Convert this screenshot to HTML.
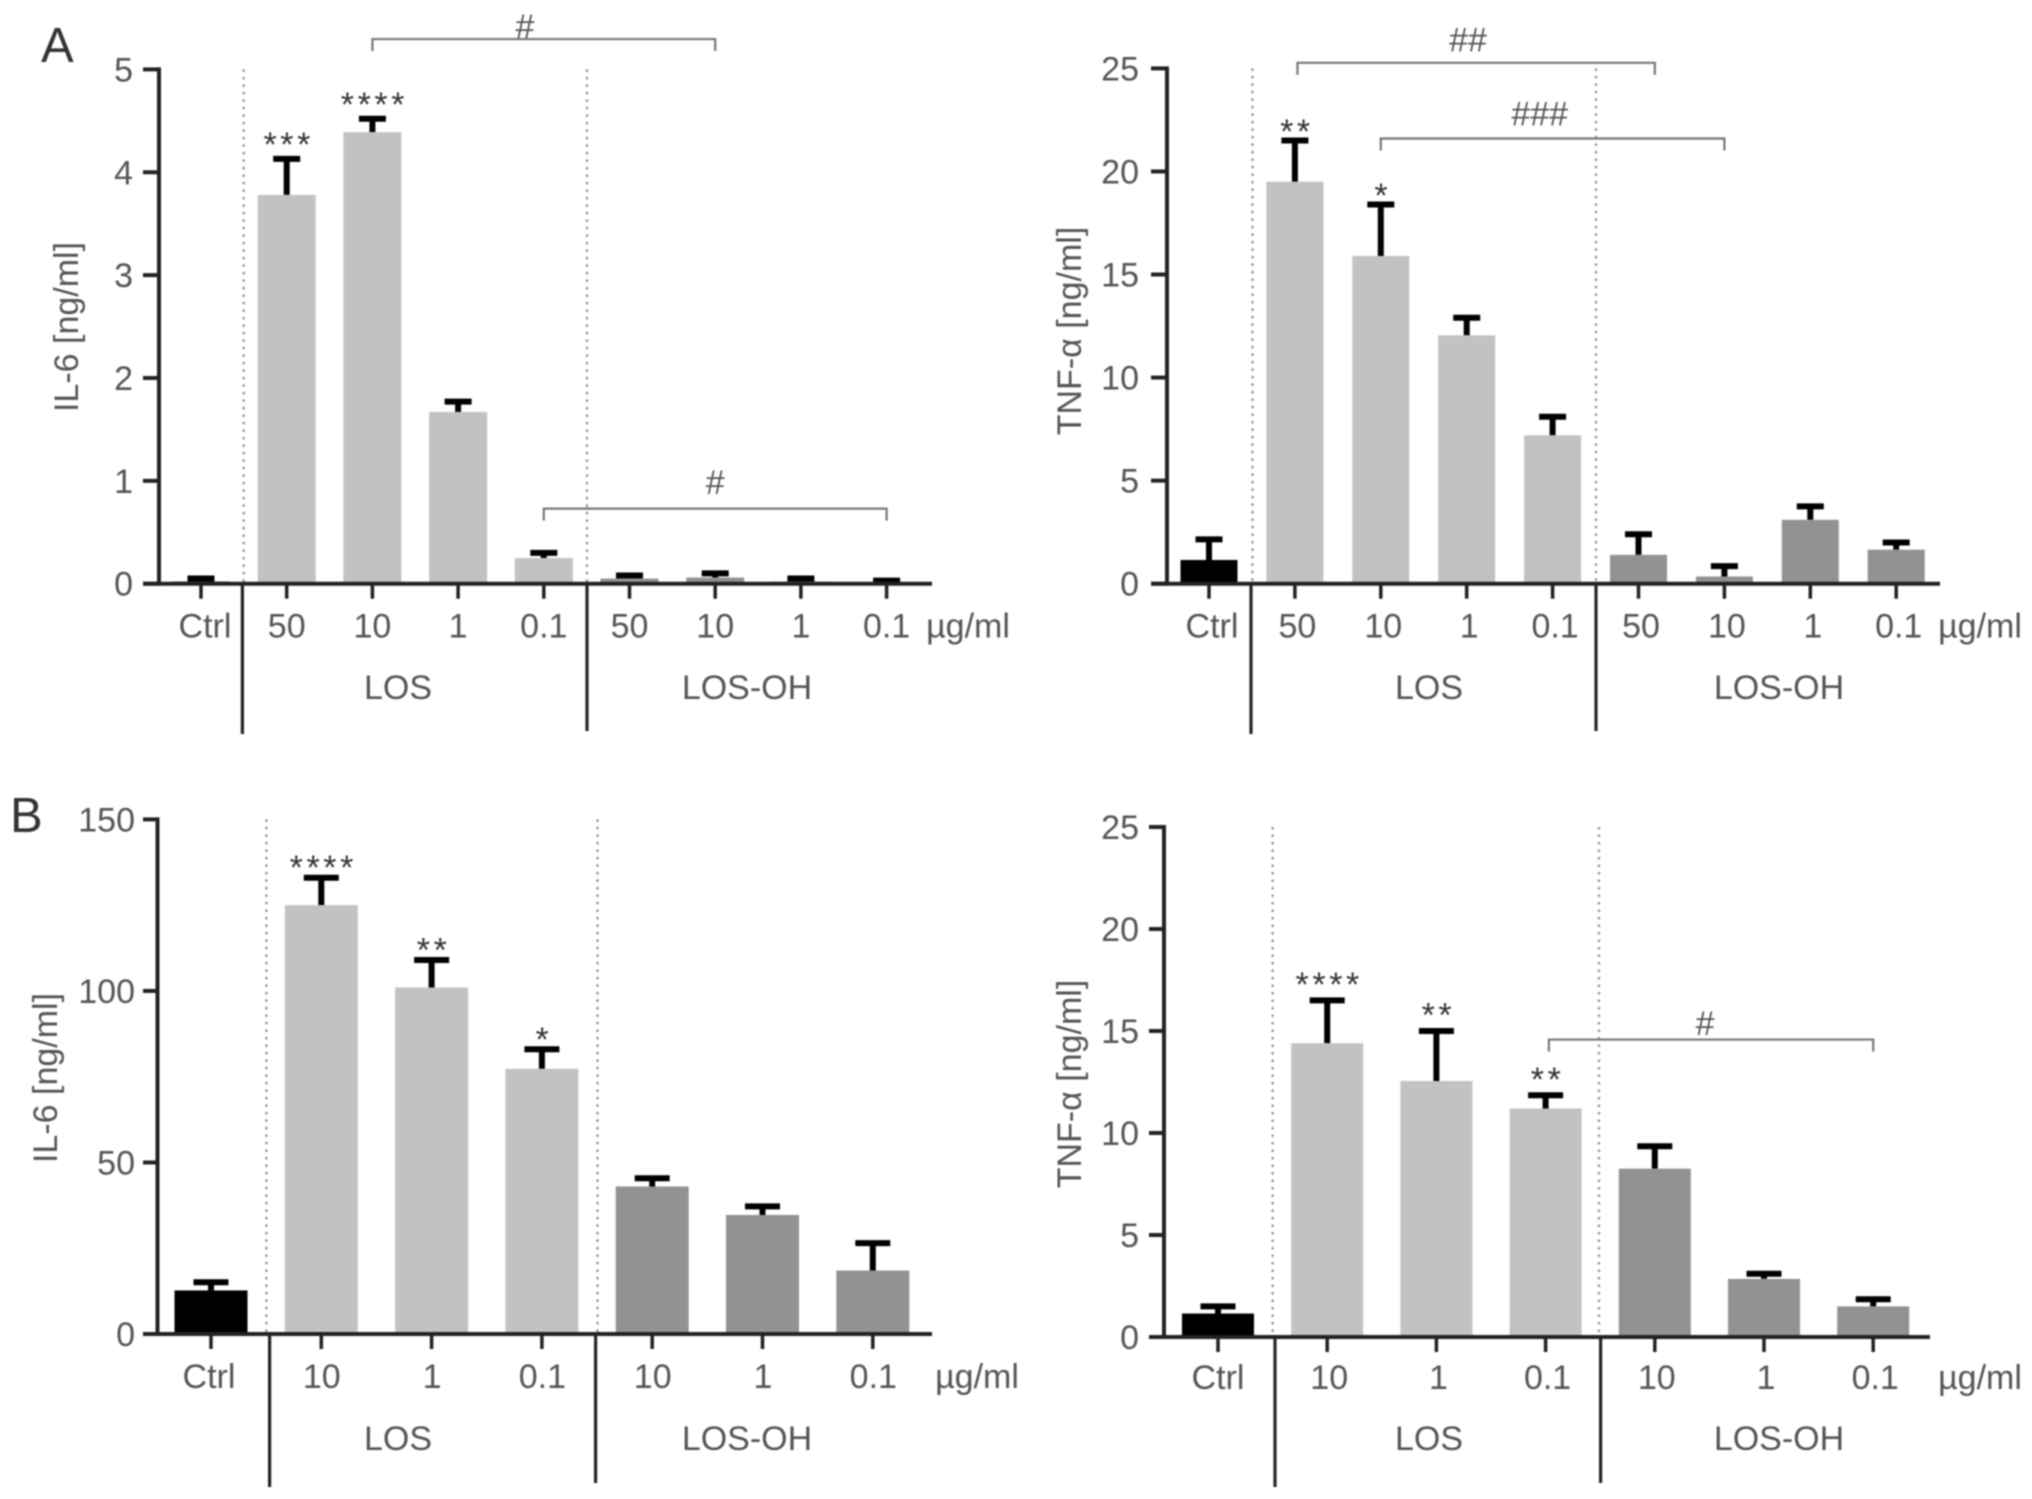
<!DOCTYPE html>
<html lang="en">
<head>
<meta charset="utf-8">
<title>IL-6 and TNF-alpha bar charts</title>
<style>
html,body{margin:0;padding:0;background:#fff;}
svg{display:block;filter:blur(0.8px);}
text{font-family:"Liberation Sans",sans-serif;fill:#555;}
</style>
</head>
<body>
<svg id="figure" width="2032" height="1499" viewBox="0 0 2032 1499" xmlns="http://www.w3.org/2000/svg">
  <rect width="2032" height="1499" fill="#fff"/>
  <text x="41" y="62" font-size="49" style="fill:#333">A</text>
  <text x="10" y="832" font-size="49" style="fill:#333">B</text>
  <g id="a-il6"></g>
  <g id="a-tnf"></g>
  <g id="b-il6"></g>
  <g id="b-tnf"></g>
</svg>
<script>
// Data
const categoriesA = ['Ctrl','50','10','1','0.1','50','10','1','0.1'];
const categoriesB = ['Ctrl','10','1','0.1','10','1','0.1'];

const aIl6Values = [0.02,3.78,4.39,1.67,0.25,0.05,0.06,0.02,0.005];
const aIl6Tops   = [0.05,4.13,4.52,1.77,0.30,0.08,0.10,0.05,0.03];
const aIl6Stars  = ['','***','****','','','','','',''];
const aIl6Ticks  = [0,1,2,3,4,5];

const aTnfValues = [1.15,19.5,15.9,12.05,7.2,1.4,0.35,3.1,1.65];
const aTnfTops   = [2.15,21.5,18.4,12.9,8.1,2.4,0.85,3.75,2.0];
const aTnfStars  = ['','**','*','','','','','',''];
const aTnfTicks  = [0,5,10,15,20,25];

const bIl6Values = [12.7,125,101,77.3,43,34.7,18.5];
const bIl6Tops   = [15.1,133,109,83,45.4,37.2,26.5];
const bIl6Stars  = ['','****','**','*','','',''];
const bIl6Ticks  = [0,50,100,150];

const bTnfValues = [1.15,14.4,12.55,11.2,8.25,2.85,1.5];
const bTnfTops   = [1.5,16.5,15,11.85,9.35,3.1,1.85];
const bTnfStars  = ['','****','**','**','','',''];
const bTnfTicks  = [0,5,10,15,20,25];

// Significance brackets: [from category, to category, level, label, label category, label level] (axis units)
const aIl6Brackets = [[2,6,5.295,'#',3.78,5.42],[4,8,0.73,'#',6,0.99]];
const aTnfBrackets = [[1.03,5.19,25.27,'##',3.015,26.39],[2,6,21.6,'###',3.85,22.8]];
const bIl6Brackets = [];
const bTnfBrackets = [[3.03,6,14.58,'#',4.46,15.39]];

const SVGNS = 'http://www.w3.org/2000/svg';
function mk(parent, tag, attrs, txt){
  const el = document.createElementNS(SVGNS, tag);
  for (const k in attrs) el.setAttribute(k, attrs[k]);
  if (txt !== undefined) el.textContent = txt;
  parent.appendChild(el);
  return el;
}

function drawChart(o){
  const g = document.getElementById(o.id);
  const xAt = i => o.xFirst + i * o.step;
  const yAt = v => o.y0 - (v / o.max) * (o.y0 - o.yTop);
  const n = o.categories.length;

  // dotted group separators
  o.dotted.forEach(function(x){
    const el = mk(g,'line',{x1:x,x2:x,y1:o.yTop,y2:o.y0,stroke:'#8f8f8f','stroke-width':2.2,'stroke-dasharray':'2.5 5'});
    
    
  });

  // bars and error bars
  o.values.forEach(function(v,i){
    const top = yAt(v);
    const colour = i === 0 ? '#000' : (i <= o.nLos ? '#c2c2c2' : '#929292');
    const stem = mk(g,'line',{x1:xAt(i),x2:xAt(i),y1:yAt(o.tops[i]),y2:top,stroke:'#000','stroke-width':6});
    
    
    const cap = mk(g,'line',{x1:xAt(i)-o.capW/2,x2:xAt(i)+o.capW/2,y1:yAt(o.tops[i]),y2:yAt(o.tops[i]),stroke:'#000','stroke-width':6});
    
    
    const bar = mk(g,'rect',{x:xAt(i)-o.barW/2,y:top,width:o.barW,height:o.y0-top,fill:colour});
    
    
    if (o.stars[i]) {
      const s = mk(g,'text',{x:xAt(i)+2,y:yAt(o.tops[i])-o.starGap+20,'font-size':34,'text-anchor':'middle','letter-spacing':3.6,style:'fill:#333'},o.stars[i]);
      
      
    }
  });

  // y axis
  const yAxis = mk(g,'line',{x1:o.axisX,x2:o.axisX,y1:o.yTop-2,y2:o.y0+2,stroke:'#222','stroke-width':4});
  
  
  o.ticks.forEach(function(t){
    const tk = mk(g,'line',{x1:o.xLeft,x2:o.axisX,y1:yAt(t),y2:yAt(t),stroke:'#222','stroke-width':4});
    
    
    const lb = mk(g,'text',{x:o.tickRight,y:yAt(t)+12,'font-size':34,'text-anchor':'end'},String(t));
    
    
  });
  const title = mk(g,'text',{transform:'translate('+o.titleX+','+o.titleY+') rotate(-90)','font-size':34,'text-anchor':'middle','dominant-baseline':'central'},o.title);
  
  

  // x axis
  const xAxis = mk(g,'line',{x1:o.xLeft,x2:o.xRight,y1:o.y0,y2:o.y0,stroke:'#222','stroke-width':4});
  
  
  for (let i=0;i<n;i++){
    const tk = mk(g,'line',{x1:xAt(i),x2:xAt(i),y1:o.y0,y2:o.y0+15,stroke:'#222','stroke-width':3.5});
    
    
    const lb = mk(g,'text',{x:xAt(i)+(i===0?o.ctrlDx:o.labelDx),y:o.labelY,'font-size':34,'text-anchor':'middle'},o.categories[i]);
    
    
  }
  const unit = mk(g,'text',{x:o.unitX,y:o.labelY,'font-size':34,'text-anchor':'middle'},'\u00b5g/ml');
  
  

  // solid dividers below the axis
  o.dividers.forEach(function(x,i){
    const d = mk(g,'line',{x1:x,x2:x,y1:o.y0,y2:o.divEnd[i],stroke:'#222','stroke-width':3.2});
    
    
  });
  const los = mk(g,'text',{x:o.losX,y:o.groupY,'font-size':34,'text-anchor':'middle'},'LOS');
  
  
  const oh = mk(g,'text',{x:o.ohX,y:o.groupY,'font-size':34,'text-anchor':'middle'},'LOS-OH');
  
  

  // significance brackets
  o.brackets.forEach(function(b){
    const x1 = xAt(b[0]), x2 = xAt(b[1]), y = yAt(b[2]);
    const p = mk(g,'polyline',{points:x1+','+(y+12)+' '+x1+','+y+' '+x2+','+y+' '+x2+','+(y+12),fill:'none',stroke:'#777','stroke-width':2.2});
    
    
    const t = mk(g,'text',{x:xAt(b[4]),y:yAt(b[5])+12,'font-size':34,'text-anchor':'middle'},b[3]);
    
    
  });
}

drawChart({id:'a-il6',categories:categoriesA,values:aIl6Values,tops:aIl6Tops,stars:aIl6Stars,ticks:aIl6Ticks,brackets:aIl6Brackets,
  max:5,yTop:69.4,y0:583.7,axisX:159,xLeft:143,xRight:932,tickRight:133,xFirst:201,step:85.7,barW:58,capW:27,nLos:4,
  dotted:[243.7,587],dividers:[242.4,587],divEnd:[734,731],labelY:637.5,groupY:699,unitX:968,losX:398,ohX:747,ctrlDx:4,labelDx:0,starGap:23,
  title:'IL-6 [ng/ml]',titleX:67,titleY:327});

drawChart({id:'a-tnf',categories:categoriesA,values:aTnfValues,tops:aTnfTops,stars:aTnfStars,ticks:aTnfTicks,brackets:aTnfBrackets,
  max:25,yTop:68.4,y0:583.7,axisX:1167,xLeft:1151,xRight:1940,tickRight:1139,xFirst:1209,step:85.9,barW:57,capW:27,nLos:4,
  dotted:[1252.5,1596],dividers:[1251,1596],divEnd:[734,731],labelY:637.5,groupY:699,unitX:1980,losX:1429,ohX:1779,ctrlDx:3,labelDx:2.5,starGap:17.5,
  title:'TNF-\u03b1 [ng/ml]',titleX:1070,titleY:331});

drawChart({id:'b-il6',categories:categoriesB,values:bIl6Values,tops:bIl6Tops,stars:bIl6Stars,ticks:bIl6Ticks,brackets:bIl6Brackets,
  max:150,yTop:819.4,y0:1334,axisX:157.5,xLeft:143,xRight:932,tickRight:135,xFirst:211,step:110.3,barW:73,capW:35,nLos:3,
  dotted:[266.4,597.5],dividers:[269.6,595.6],divEnd:[1487,1483],labelY:1388,groupY:1450,unitX:977,losX:398,ohX:747,ctrlDx:-2,labelDx:0.5,starGap:18.5,
  title:'IL-6 [ng/ml]',titleX:46,titleY:1078});

drawChart({id:'b-tnf',categories:categoriesB,values:bTnfValues,tops:bTnfTops,stars:bTnfStars,ticks:bTnfTicks,brackets:bTnfBrackets,
  max:25,yTop:827,y0:1337,axisX:1164,xLeft:1149,xRight:1930,tickRight:1139,xFirst:1218,step:109.2,barW:72,capW:35,nLos:3,
  dotted:[1272.6,1599],dividers:[1275,1600.6],divEnd:[1487,1483],labelY:1389,groupY:1450,unitX:1980,losX:1429,ohX:1779,ctrlDx:0,labelDx:2,starGap:24.5,
  title:'TNF-\u03b1 [ng/ml]',titleX:1070,titleY:1084});
</script>
</body>
</html>
